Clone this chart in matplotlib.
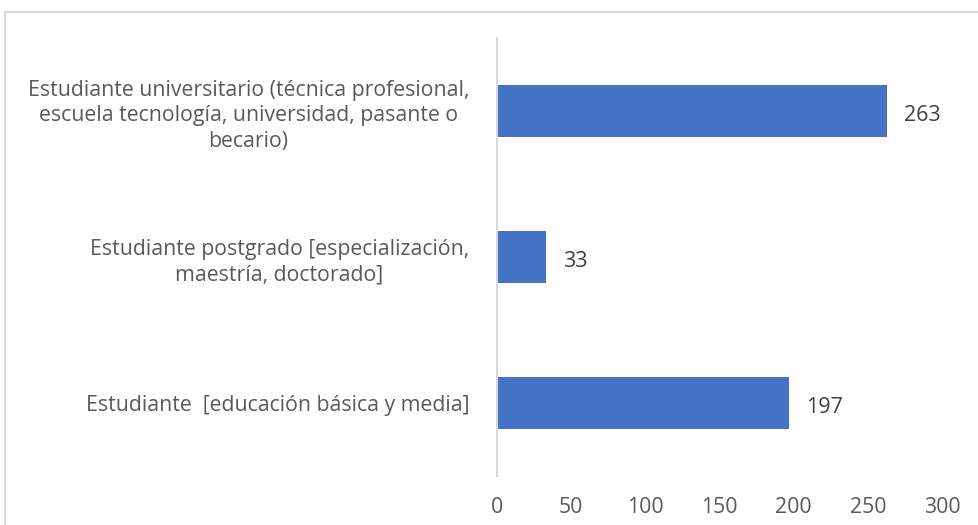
import matplotlib.pyplot as plt
from matplotlib.patches import Rectangle

# Data
categories = [
    'Estudiante  [educación básica y media]',
    'Estudiante postgrado [especialización,\nmaestría, doctorado]',
    'Estudiante universitario (técnica profesional,\nescuela tecnología, universidad, pasante o\nbecario)',
]
values = [197, 33, 263]
xticks = [0, 50, 100, 150, 200, 250, 300]

plt.rcParams['font.family'] = ['Open Sans', 'DejaVu Sans']

fig = plt.figure(figsize=(9.79, 5.25), dpi=100)
ax = fig.add_axes([497 / 979, 1 - 476 / 525, 445 / 979, 438 / 525])

# Outer chart frame (cropped on right/bottom like the screenshot)
fig.patches.append(Rectangle((5 / 979, -0.1), 1.1, 1 - 12 / 525 + 0.1,
                             transform=fig.transFigure, fill=False,
                             edgecolor='#d9d9d9', linewidth=1.5))

ypos = range(len(categories))
bars = ax.barh(ypos, values, height=0.35, color='#4472C4')

# value labels, nudged a few pixels down to sit on the bar centre
for y, v in zip(ypos, values):
    ax.annotate(str(v), (v, y), xytext=(12, -3), textcoords='offset points',
                va='center', ha='left', fontsize=15.5, color='#404040')

ax.set_xlim(0, 300)
ax.set_ylim(-0.5, 2.5)
ax.set_xticks(xticks)
ax.set_yticks(list(ypos))
ax.set_yticklabels(categories, multialignment='center', linespacing=1.3)

for s in ['top', 'right', 'bottom']:
    ax.spines[s].set_visible(False)
ax.spines['left'].set_color('#d9d9d9')
ax.spines['left'].set_linewidth(1.5)
ax.tick_params(axis='both', length=0, colors='#595959', labelsize=15.3)
ax.tick_params(axis='x', pad=15)
ax.tick_params(axis='y', pad=20)

fig.savefig('out.png', dpi=100)
